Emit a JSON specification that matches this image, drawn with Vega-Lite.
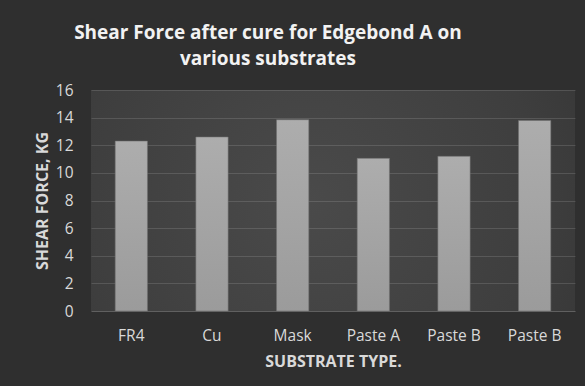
{
  "$schema": "https://vega.github.io/schema/vega-lite/v6.json",
  "width": 484,
  "height": 221,
  "autosize": "none",
  "padding": {"left": 91, "top": 90, "right": 10, "bottom": 75},
  "background": "#2f2f2f",
  "title": {
    "text": ["Shear Force after cure for Edgebond A on", "various substrates"],
    "font": "Open Sans",
    "fontSize": 19,
    "fontWeight": "bold",
    "color": "#f2f2f2",
    "lineHeight": 26,
    "anchor": "middle",
    "frame": "group",
    "dx": -65,
    "offset": 14
  },
  "data": {
    "values": [
      {"substrate": "FR4", "shear_kg": 12.3},
      {"substrate": "Cu", "shear_kg": 12.6},
      {"substrate": "Mask", "shear_kg": 13.85},
      {"substrate": "Paste A", "shear_kg": 11.05},
      {"substrate": "Paste B", "shear_kg": 11.2},
      {"substrate": "Paste B (2)", "shear_kg": 13.8}
    ]
  },
  "mark": {
    "type": "bar",
    "fill": {
      "gradient": "linear",
      "x1": 0, "y1": 0, "x2": 0, "y2": 1,
      "stops": [
        {"offset": 0, "color": "#adadad"},
        {"offset": 1, "color": "#9b9b9b"}
      ]
    },
    "stroke": "#6f6f6f",
    "strokeWidth": 0.8,
    "strokeOpacity": 0.7
  },
  "encoding": {
    "x": {
      "field": "substrate",
      "type": "nominal",
      "sort": null,
      "scale": {"paddingInner": 0.6, "paddingOuter": 0.3},
      "axis": {
        "title": "SUBSTRATE TYPE.",
        "labelAngle": 0,
        "labelExpr": "replace(datum.label, ' (2)', '')",
        "ticks": false,
        "labelPadding": 17,
        "titlePadding": 10
      }
    },
    "y": {
      "field": "shear_kg",
      "type": "quantitative",
      "scale": {"domain": [0, 16], "nice": false},
      "axis": {
        "title": "SHEAR FORCE, KG",
        "values": [0, 2, 4, 6, 8, 10, 12, 14, 16],
        "domain": false,
        "ticks": false,
        "labelPadding": 18,
        "titlePadding": 5
      }
    }
  },
  "config": {
    "view": {
      "stroke": null,
      "fill": {
        "gradient": "radial",
        "x1": 0.45, "y1": 0.5, "r1": 0,
        "x2": 0.45, "y2": 0.5, "r2": 0.8,
        "stops": [
          {"offset": 0, "color": "#4a4a4a"},
          {"offset": 0.6, "color": "#3e3e3e"},
          {"offset": 1, "color": "#313131"}
        ]
      }
    },
    "axis": {
      "labelFont": "Open Sans",
      "labelFontSize": 15.5,
      "labelColor": "#d9d9d9",
      "titleFont": "Open Sans",
      "titleFontSize": 16,
      "titleFontWeight": "bold",
      "titleColor": "#d9d9d9",
      "gridColor": "#ffffff",
      "gridOpacity": 0.13,
      "gridWidth": 1,
      "domainColor": "#ffffff",
      "domainOpacity": 0.13,
      "domainWidth": 1
    }
  }
}
